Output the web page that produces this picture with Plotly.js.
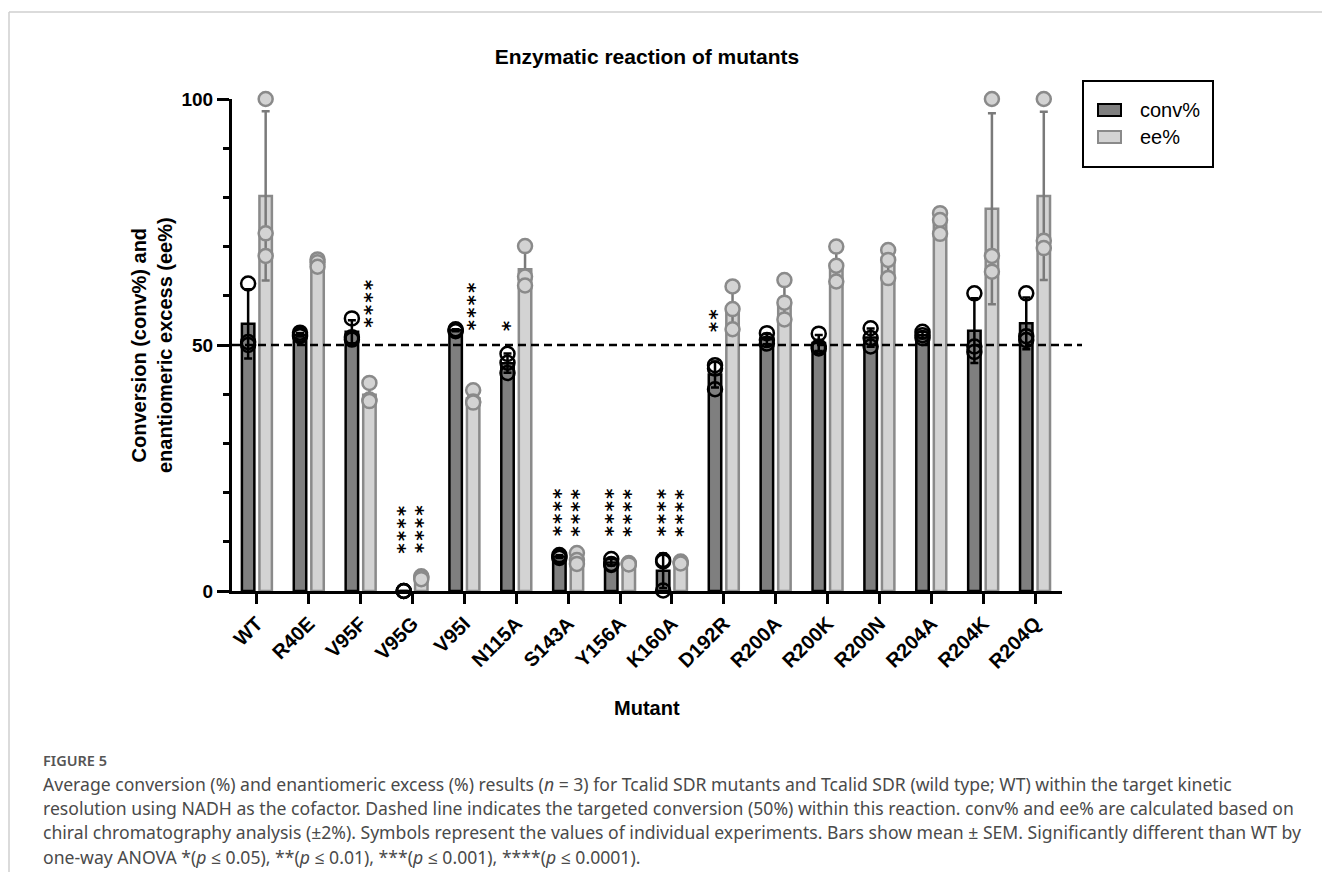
<!DOCTYPE html>
<html><head><meta charset="utf-8">
<script src="https://cdn.plot.ly/plotly-3.0.1.min.js"></script>
<style>html,body{margin:0;padding:0;background:#fff;} #chart{width:1322px;height:872px;}</style>
</head><body><div id="chart"></div>
<script>
// ---------------- data ----------------
const categories = ['WT','R40E','V95F','V95G','V95I','N115A','S143A','Y156A','K160A','D192R','R200A','R200K','R200N','R204A','R204K','R204Q'];
const convMean = [54.3, 52.1, 52.7, 0, 53.0, 46.3, 7.0, 5.8, 4.1, 44.0, 51.2, 50.4, 51.5, 52.0, 52.9, 54.4];
const convErr  = [7.05, 0.35, 2.35, 0, 0.2, 1.95, 0.3, 0.64, 3.5, 2.65, 1.07, 1.63, 1.85, 0.65, 6.58, 5.27];
const eeMean   = [80.3, 66.7, 39.9, 2.7, 39.2, 65.4, 6.5, 5.5, 5.8, 57.5, 59.0, 66.3, 66.7, 74.9, 77.7, 80.3];
const eeErr    = [17.2, 0.75, 2.05, 0.31, 1.39, 4.2, 1.11, 0.15, 0.2, 4.35, 4.0, 3.56, 2.9, 2.13, 19.4, 17.1];
const convReplicates = [
  [62.5, 50.6, 50.0], [52.5, 52.1, 51.8], [55.4, 51.6, 51.1], [0, 0, 0],
  [53.2, 53.0, 52.8], [48.2, 46.4, 44.3], [7.3, 7.0, 6.7], [6.5, 5.5, 5.3],
  [6.3, 6.0, 0.1], [45.9, 45.2, 41.0], [52.4, 51.0, 50.3], [52.3, 49.7, 49.3],
  [53.4, 51.4, 49.7], [52.7, 52.0, 51.4], [60.5, 49.7, 48.6], [60.5, 51.8, 51.0]
];
const eeReplicates = [
  [100, 72.7, 68.1], [67.4, 66.8, 65.9], [42.3, 38.9, 38.6], [3.0, 2.8, 2.4],
  [40.8, 38.5, 38.3], [70.1, 63.9, 62.1], [7.7, 6.3, 5.5], [5.7, 5.5, 5.4],
  [6.0, 5.8, 5.6], [61.9, 57.3, 53.2], [63.2, 58.6, 55.2], [70.0, 66.1, 62.9],
  [69.3, 67.3, 63.6], [76.8, 75.4, 72.6], [100, 68.1, 64.9], [100, 71.2, 69.7]
];
const convSig = ['', '', '', '****', '', '*', '****', '****', '****', '**', '', '', '', '', '', ''];
const eeSig   = ['', '', '****', '****', '****', '', '****', '****', '****', '', '', '', '', '', '', ''];
const convSigLevel = [0, 0, 0, 7.6, 0, 52.7, 11, 11, 11, 52.7, 0, 0, 0, 0, 0, 0];
const eeSigLevel   = [0, 0, 53.4, 7.6, 52.9, 0, 11, 11, 11, 0, 0, 0, 0, 0, 0, 0];
const seriesNames = ['conv%', 'ee%'];

// ---------------- layout helpers ----------------
const L = 232, R = 1062, T = 99, B = 591, W = 1322, H = 872;
const px = x => (x - L) / (R - L);
const py = y => (B - y) / (B - T);
const OFF = 0.169, BW = 0.24;
const FONT = 'Arial, "Liberation Sans", sans-serif';
const STARFONT = '"DejaVu Sans", sans-serif';
const CAPFONT = '"Noto Sans", "Open Sans", sans-serif';
const DARK = '#7f7f7f', LIGHT = '#d3d3d3', LIGHTLINE = '#8a8a8a';
const idx = categories.map((_, i) => i);

const flatX = (reps, off) => reps.flatMap((r, i) => r.map(() => i + off));
const flatY = reps => reps.flatMap(r => r);

const traces = [
  {type: 'bar', name: seriesNames[0], x: idx.map(i => i - OFF), y: convMean, width: BW,
   marker: {color: DARK, line: {color: '#000', width: 2.5}},
   error_y: {type: 'data', array: convErr, visible: true, color: '#000', thickness: 2.5, width: 4},
   showlegend: false, hoverinfo: 'skip'},
  {type: 'bar', name: seriesNames[1], x: idx.map(i => i + OFF), y: eeMean, width: BW,
   marker: {color: LIGHT, line: {color: LIGHTLINE, width: 2.5}},
   error_y: {type: 'data', array: eeErr, visible: true, color: '#7a7a7a', thickness: 2.5, width: 4},
   showlegend: false, hoverinfo: 'skip'},
  {type: 'scatter', mode: 'markers', x: flatX(convReplicates, -OFF), y: flatY(convReplicates),
   marker: {symbol: 'circle-open', size: 14, color: '#000', line: {color: '#000', width: 2.5}},
   cliponaxis: false, showlegend: false, hoverinfo: 'skip'},
  {type: 'scatter', mode: 'markers', x: flatX(eeReplicates, OFF), y: flatY(eeReplicates),
   marker: {symbol: 'circle', size: 14, color: LIGHT, line: {color: LIGHTLINE, width: 2.5}},
   cliponaxis: false, showlegend: false, hoverinfo: 'skip'}
];

const annotations = [];
// significance stars: one vertical (rotated) text per bar
[[convSig, convSigLevel, -OFF], [eeSig, eeSigLevel, OFF]].forEach(([sig, lvl, off]) => {
  sig.forEach((s, i) => {
    if (!s) return;
    annotations.push({x: i + off, y: lvl[i], xref: 'x', yref: 'y',
      text: s.split('').join('\u200A'), textangle: 90, showarrow: false,
      yanchor: 'bottom', xanchor: 'center', xshift: -4, yshift: -2,
      font: {family: STARFONT, size: 20, color: '#000', weight: 'bold'}});
  });
});
// axis titles
annotations.push({xref: 'paper', yref: 'paper', x: px(152), y: 0.5, textangle: -90,
  text: 'Conversion (conv%) and<br>enantiomeric excess (ee%)', showarrow: false,
  xanchor: 'center', yanchor: 'middle', font: {family: FONT, size: 20, color: '#000', weight: 'bold'}});
annotations.push({xref: 'paper', yref: 'paper', x: 0.5, y: py(708), text: 'Mutant', showarrow: false,
  xanchor: 'center', yanchor: 'middle', font: {family: FONT, size: 20, color: '#000', weight: 'bold'}});
// legend text
annotations.push({xref: 'paper', yref: 'paper', x: px(1138), y: py(110), text: seriesNames[0], showarrow: false,
  xanchor: 'left', yanchor: 'middle', font: {family: FONT, size: 20, color: '#000'}});
annotations.push({xref: 'paper', yref: 'paper', x: px(1138), y: py(137), text: seriesNames[1], showarrow: false,
  xanchor: 'left', yanchor: 'middle', font: {family: FONT, size: 20, color: '#000'}});
// caption
const capLines = [
  'Average conversion (%) and enantiomeric excess (%) results (<i>n</i> = 3) for Tcalid SDR mutants and Tcalid SDR (wild type; WT) within the target kinetic',
  'resolution using NADH as the cofactor. Dashed line indicates the targeted conversion (50%) within this reaction. conv% and ee% are calculated based on',
  'chiral chromatography analysis (±2%). Symbols represent the values of individual experiments. Bars show mean ± SEM. Significantly different than WT by',
  'one-way ANOVA *(<i>p</i> ≤ 0.05), **(<i>p</i> ≤ 0.01), ***(<i>p</i> ≤ 0.001), ****(<i>p</i> ≤ 0.0001).'
];
annotations.push({xref: 'paper', yref: 'paper', x: px(41), y: py(760), text: 'FIGURE 5', showarrow: false,
  xanchor: 'left', yanchor: 'middle', font: {family: CAPFONT, size: 14.5, color: '#555', weight: 600}});
capLines.forEach((t, k) => {
  annotations.push({xref: 'paper', yref: 'paper', x: px(41), y: py(784 + k * 24.2), text: t, showarrow: false,
    xanchor: 'left', yanchor: 'middle', font: {family: CAPFONT, size: 17.6, color: '#4a4a4a'}});
});

const shapes = [
  {type: 'line', xref: 'paper', yref: 'y', x0: 0, x1: px(1082), y0: 50, y1: 50,
   line: {color: '#000', width: 2.5, dash: '8px,5px'}},
  // legend box and swatches
  {type: 'rect', xref: 'paper', yref: 'paper', x0: px(1083), x1: px(1213), y0: py(81), y1: py(167),
   line: {color: '#000', width: 2}, fillcolor: 'rgba(0,0,0,0)'},
  {type: 'rect', xref: 'paper', yref: 'paper', x0: px(1098), x1: px(1121), y0: py(104), y1: py(116),
   line: {color: '#000', width: 2}, fillcolor: DARK},
  {type: 'rect', xref: 'paper', yref: 'paper', x0: px(1098), x1: px(1121), y0: py(131), y1: py(143),
   line: {color: LIGHTLINE, width: 2}, fillcolor: LIGHT},
  // page frame
  {type: 'line', xref: 'paper', yref: 'paper', x0: px(9), x1: px(1322), y0: py(12), y1: py(12),
   line: {color: '#cfcfcf', width: 1.5}},
  {type: 'line', xref: 'paper', yref: 'paper', x0: px(9), x1: px(9), y0: py(12), y1: py(872),
   line: {color: '#cfcfcf', width: 1.5}}
];

const layout = {
  width: W, height: H,
  margin: {l: L, r: W - R, t: T, b: H - B, pad: 0},
  paper_bgcolor: '#fff', plot_bgcolor: 'rgba(0,0,0,0)',
  barmode: 'overlay',
  showlegend: false,
  title: {text: 'Enzymatic reaction of mutants', xref: 'paper', x: 0.5, xanchor: 'center',
          yref: 'container', y: 1 - 57 / H, yanchor: 'middle',
          font: {family: FONT, size: 21, color: '#000', weight: 'bold'}},
  xaxis: {range: [-0.48, 15.52], tickmode: 'array', tickvals: idx, ticktext: categories,
          tickangle: -45, ticks: 'outside', ticklen: 10, tickwidth: 3, tickcolor: '#000',
          showline: true, linewidth: 3, linecolor: '#000', showgrid: false, zeroline: false,
          tickfont: {family: FONT, size: 20, color: '#000', weight: 'bold'}, fixedrange: true},
  yaxis: {range: [0, 100], tickmode: 'array', tickvals: [0, 50, 100], ticks: 'outside', ticklen: 12,
          tickwidth: 3, tickcolor: '#000', showline: true, linewidth: 3, linecolor: '#000',
          showgrid: false, zeroline: false,
          minor: {dtick: 10, tick0: 0, ticks: 'outside', ticklen: 6, tickwidth: 3, tickcolor: '#000', showgrid: false},
          tickfont: {family: FONT, size: 19, color: '#000', weight: 'bold'}, fixedrange: true},
  annotations: annotations,
  shapes: shapes
};

Plotly.newPlot('chart', traces, layout, {displayModeBar: false, staticPlot: true});
</script>
</body></html>
